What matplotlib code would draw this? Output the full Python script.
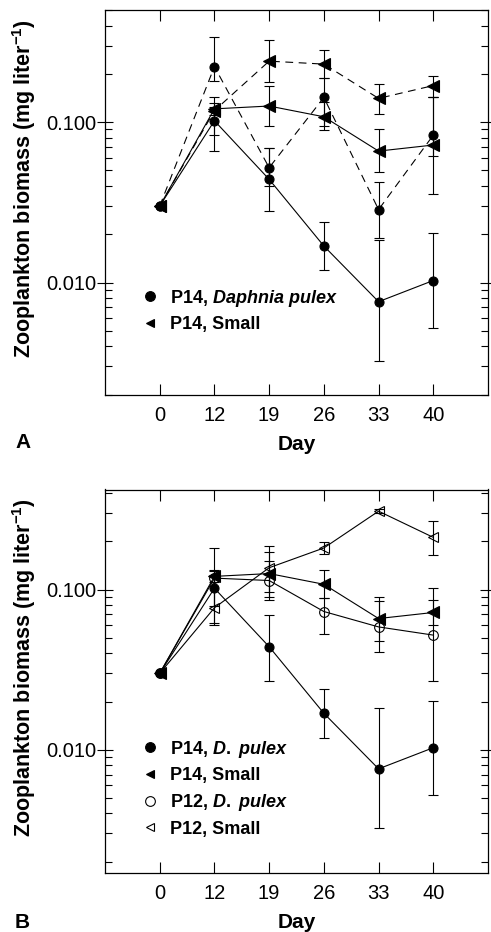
import matplotlib
matplotlib.use('Agg')
import matplotlib.pyplot as plt
from matplotlib.lines import Line2D
from matplotlib.ticker import LogLocator, FuncFormatter, NullFormatter
import numpy as np

plt.rcParams['font.family'] = ['Liberation Sans', 'DejaVu Sans']
plt.rcParams['mathtext.fontset'] = 'custom'
plt.rcParams['mathtext.rm'] = 'Liberation Sans:bold'
plt.rcParams['mathtext.it'] = 'Liberation Sans:italic:bold'
plt.rcParams['mathtext.bf'] = 'Liberation Sans:bold'

days = ['0', '12', '19', '26', '33', '40']

# ---------------- Panel A ----------------
a_p14_dp = [0.030, 0.102, 0.044, 0.0169, 0.0076, 0.0103]
a_p14_dp_hi = [0.030, 0.124, 0.069, 0.024, 0.0183, 0.0203]
a_p14_dp_lo = [0.030, 0.066, 0.028, 0.0119, 0.00324, 0.0052]

a_p14_sm = [0.030, 0.121, 0.126, 0.108, 0.066, 0.072]
a_p14_sm_hi = [0.030, 0.131, 0.168, 0.134, 0.090, 0.143]
a_p14_sm_lo = [0.030, 0.111, 0.094, 0.089, 0.049, 0.0613]

a_dash_dp = [0.030, 0.222, 0.052, 0.1425, 0.0285, 0.083]
a_dash_dp_hi = [0.030, 0.337, 0.069, 0.189, 0.0424, 0.143]
a_dash_dp_lo = [0.030, 0.180, 0.040, 0.094, 0.019, 0.0355]

a_dash_sm = [0.030, 0.118, 0.240, 0.230, 0.1406, 0.169]
a_dash_sm_hi = [0.030, 0.143, 0.325, 0.281, 0.174, 0.194]
a_dash_sm_lo = [0.030, 0.083, 0.179, 0.189, 0.113, 0.143]

# ---------------- Panel B ----------------
b_p14_dp = [0.030, 0.102, 0.044, 0.0169, 0.0076, 0.0103]
b_p14_dp_hi = [0.030, 0.124, 0.069, 0.024, 0.0183, 0.0203]
b_p14_dp_lo = [0.030, 0.062, 0.027, 0.0119, 0.00324, 0.0052]

b_p14_sm = [0.030, 0.121, 0.126, 0.108, 0.066, 0.072]
b_p14_sm_hi = [0.030, 0.131, 0.171, 0.133, 0.090, 0.102]
b_p14_sm_lo = [0.030, 0.111, 0.096, 0.089, 0.048, 0.060]

b_p12_dp = [0.030, 0.118, 0.114, 0.073, 0.0585, 0.052]
b_p12_dp_hi = [0.030, 0.182, 0.152, 0.089, 0.085, 0.086]
b_p12_dp_lo = [0.030, 0.079, 0.086, 0.053, 0.041, 0.027]

b_p12_sm = [0.030, 0.077, 0.137, 0.182, 0.309, 0.212]
b_p12_sm_hi = [0.030, 0.133, 0.188, 0.198, 0.320, 0.268]
b_p12_sm_lo = [0.030, 0.060, 0.090, 0.168, 0.300, 0.165]

x = np.arange(len(days))

LW = 0.8
DASH = (0, (7, 5))


def series(ax, vals, hi, lo, ls, marker, filled, ms):
    v = np.array(vals)
    err = np.vstack([v - np.array(lo), np.array(hi) - v])
    ax.errorbar(x, v, yerr=err, fmt='none', ecolor='k', elinewidth=LW,
                capsize=3.8, capthick=LW, zorder=2)
    ax.plot(x, v, linestyle=ls, color='k', lw=LW, marker=marker, ms=ms,
            mfc='k' if filled else 'none', mec='k', mew=0.8, zorder=3)


def style_axes(ax, ylim):
    ax.set_yscale('log')
    ax.set_ylim(*ylim)
    ax.set_xlim(-1, 6)
    ax.set_xticks(x)
    ax.set_xticklabels(days)
    ax.yaxis.set_major_locator(LogLocator(base=10))
    ax.yaxis.set_major_formatter(FuncFormatter(lambda v, p: f'{v:.3f}'))
    ax.yaxis.set_minor_locator(LogLocator(base=10, subs=np.arange(2, 10)))
    ax.yaxis.set_minor_formatter(NullFormatter())
    ax.tick_params(axis='y', which='major', direction='inout', length=11,
                   width=0.8, right=True, labelsize=14.5, pad=0.5)
    ax.tick_params(axis='y', which='minor', direction='in', length=5,
                   width=0.8, right=True)
    ax.tick_params(axis='x', which='major', direction='in', length=8,
                   width=0.8, top=True, labelsize=14.5, pad=8)
    for s in ax.spines.values():
        s.set_linewidth(0.9)
    ax.set_xlabel('Day', fontsize=15, fontweight='bold', labelpad=7)
    ax.set_ylabel(r'Zooplankton biomass (mg liter$^{-1}$)', fontsize=15.5,
                  fontweight='bold')
    ax.yaxis.set_label_coords(-0.175, 0.535)


fig = plt.figure(figsize=(4.91, 9.32), dpi=100)
axA = fig.add_axes([105 / 491, 1 - 394.7 / 932, 383 / 491, 384.7 / 932])
axB = fig.add_axes([105 / 491, 1 - 873 / 932, 383 / 491, 383.5 / 932])

# Panel A
series(axA, a_dash_dp, a_dash_dp_hi, a_dash_dp_lo, DASH, 'o', True, 6.5)
series(axA, a_dash_sm, a_dash_sm_hi, a_dash_sm_lo, DASH, '<', True, 8)
series(axA, a_p14_dp, a_p14_dp_hi, a_p14_dp_lo, '-', 'o', True, 6.5)
series(axA, a_p14_sm, a_p14_sm_hi, a_p14_sm_lo, '-', '<', True, 8)
style_axes(axA, (0.002, 0.5))

# Panel B
series(axB, b_p12_sm, b_p12_sm_hi, b_p12_sm_lo, '-', '<', False, 6.5)
series(axB, b_p12_dp, b_p12_dp_hi, b_p12_dp_lo, '-', 'o', False, 7)
series(axB, b_p14_dp, b_p14_dp_hi, b_p14_dp_lo, '-', 'o', True, 6.5)
series(axB, b_p14_sm, b_p14_sm_hi, b_p14_sm_lo, '-', '<', True, 8)
style_axes(axB, (0.0017, 0.422))


def h(marker, filled, ms):
    return Line2D([], [], linestyle='none', marker=marker, ms=ms, color='k',
                  mfc='k' if filled else 'none', mec='k', mew=0.8)


leg_kw = dict(loc='upper left', frameon=False, borderpad=0, borderaxespad=0,
              handlelength=1.0, handletextpad=0.6, labelspacing=0.42,
              prop={'weight': 'bold', 'size': 13})

axA.legend([h('o', True, 7), h('<', True, 6)],
           [r'P14, $\it{Daphnia}$ $\it{pulex}$', 'P14, Small'],
           bbox_to_anchor=(0.094, 0.278), **leg_kw)

axB.legend([h('o', True, 7), h('<', True, 6), h('o', False, 7), h('<', False, 6)],
           [r'P14, $\it{D.}$ $\it{pulex}$', 'P14, Small',
            r'P12, $\it{D.}$ $\it{pulex}$', 'P12, Small'],
           bbox_to_anchor=(0.094, 0.350), **leg_kw)

fig.text(15 / 491, 1 - 443 / 932, 'A', fontsize=15, fontweight='bold',
         ha='left', va='center')
fig.text(15 / 491, 1 - 923 / 932, 'B', fontsize=15, fontweight='bold',
         ha='left', va='center')

fig.savefig('out.png', dpi=100)
